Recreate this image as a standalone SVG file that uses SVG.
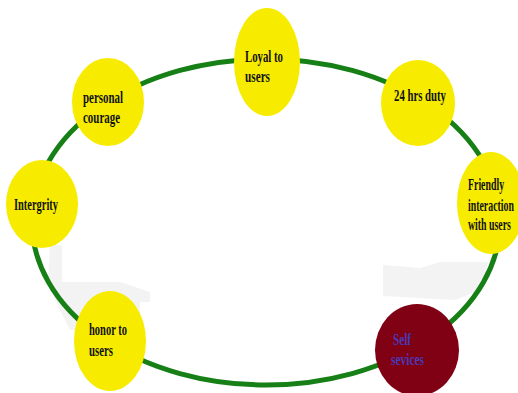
<svg xmlns="http://www.w3.org/2000/svg" width="518" height="393" viewBox="0 0 518 393">
<style>
.n{fill:#f7ec00;stroke:none}
.t{font-family:"Liberation Serif","Times New Roman",serif;font-weight:bold;font-size:17px;fill:#111}
.ring{fill:none;stroke:#168016;stroke-width:5}
.sh{fill:#f3f3f3}
</style>
<rect width="518" height="393" fill="#fff"/>
<g id="shadows">
<polygon class="sh" points="50,245 62,245 62,282 120,282 150,292 150,302 140,302 140,330 70,330 55,300 48,280"/>
<polygon class="sh" points="383,265 420,268 440,262 470,262 488,262 480,290 455,300 383,296"/>
</g>
<g id="connectors">
<ellipse class="ring" cx="266" cy="222" rx="234" ry="163"/>
</g>
<g id="loyal"><ellipse class="n" cx="267" cy="62" rx="33" ry="54"/>
<text class="t" x="245" y="62" textLength="38" lengthAdjust="spacingAndGlyphs">Loyal to</text>
<text class="t" x="245" y="82" textLength="25" lengthAdjust="spacingAndGlyphs">users</text></g>
<g id="courage"><ellipse class="n" cx="108" cy="102" rx="36" ry="44"/>
<text class="t" x="83" y="103" textLength="40" lengthAdjust="spacingAndGlyphs">personal</text>
<text class="t" x="83" y="123" textLength="37" lengthAdjust="spacingAndGlyphs">courage</text></g>
<g id="duty"><ellipse class="n" cx="418" cy="103" rx="37" ry="43"/>
<text class="t" x="394" y="101" textLength="52" lengthAdjust="spacingAndGlyphs">24 hrs duty</text></g>
<g id="friendly"><ellipse class="n" cx="491" cy="203" rx="34" ry="51"/>
<g transform="translate(468,0) scale(0.58,1)">
<text class="t" x="0" y="190">Friendly</text>
<text class="t" x="0" y="211">interaction</text>
<text class="t" x="0" y="230">with users</text></g></g>
<g id="integrity"><ellipse class="n" cx="42" cy="204" rx="36" ry="44"/>
<text class="t" x="14" y="210" textLength="44" lengthAdjust="spacingAndGlyphs">Intergrity</text></g>
<g id="honor"><ellipse class="n" cx="110" cy="341" rx="36" ry="50" stroke="#4646c8" stroke-width="3"/>
<text class="t" x="89" y="335" textLength="38" lengthAdjust="spacingAndGlyphs">honor to</text>
<text class="t" x="89" y="356" textLength="24" lengthAdjust="spacingAndGlyphs">users</text></g>
<g id="self"><ellipse cx="417" cy="350" rx="42" ry="46" fill="#800014"/>
<text class="t" x="393" y="345" textLength="18" lengthAdjust="spacingAndGlyphs" style="fill:#4a3ab8">Self</text>
<text class="t" x="391" y="365" textLength="33" lengthAdjust="spacingAndGlyphs" style="fill:#4a3ab8">sevices</text></g>
</svg>
